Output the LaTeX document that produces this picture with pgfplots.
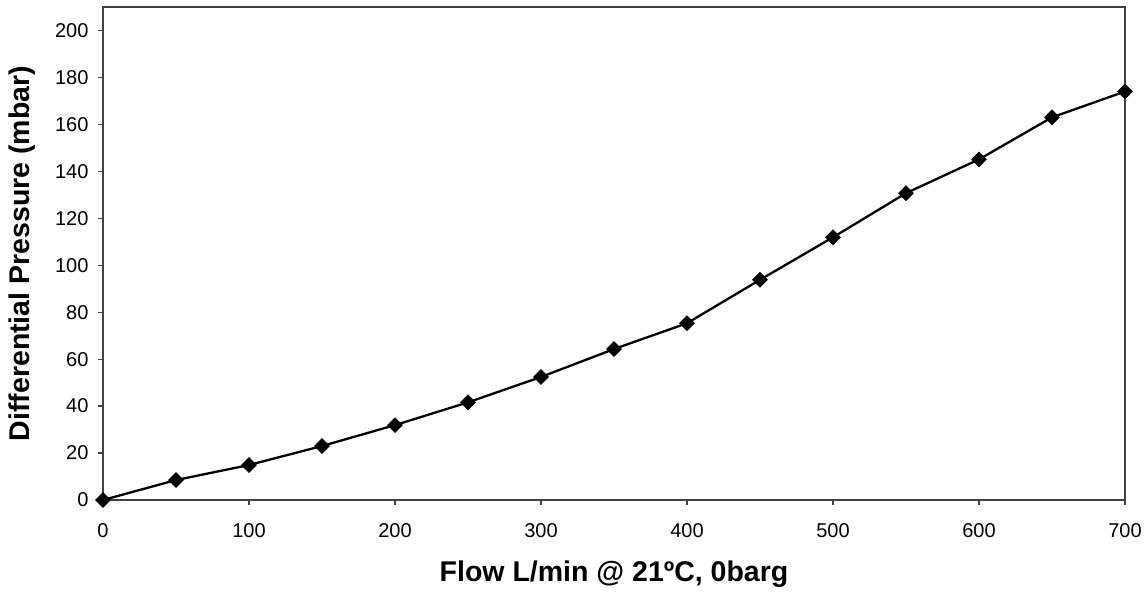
\documentclass[border=0pt]{standalone}
\usepackage{fontspec}
\setmainfont{Liberation Sans}
\usepackage{pgfplots}
\pgfplotsset{compat=1.18}
\begin{document}
\begin{tikzpicture}
\useasboundingbox (-103pt,-92pt) rectangle (1044pt,500pt);
\begin{axis}[
  at={(0,0)}, anchor=south west,
  scale only axis, width=1022pt, height=493pt,
  xmin=0, xmax=700, ymin=0, ymax=210,
  xtick={0,100,...,700}, ytick={0,20,...,200},
  tick align=outside, major tick length=5pt,
  tick style={color=black!75, line width=1.2pt},
  axis line style={color=black!75, line width=1.5pt},
  xtick pos=bottom, ytick pos=left,
  /pgf/number format/assume math mode=true,
  ticklabel style={font=\fontsize{20}{22}\selectfont},
  xticklabel style={yshift=-15pt},
  yticklabel style={xshift=-6pt},
  xlabel={Flow L/min @ 21ºC, 0barg},
  ylabel={Differential Pressure (mbar)},
  xlabel style={font=\fontsize{28.5}{30}\selectfont\bfseries,
    at={(axis description cs:0.5,-0.150)}, anchor=center},
  ylabel style={font=\fontsize{28.5}{30}\selectfont\bfseries,
    at={(axis description cs:-0.0793,0.5)}, anchor=center},
  clip=false,
]
\addplot[black, line width=2.3pt, mark=square*, mark size=5.3pt, mark options={rotate=45, line width=0.5pt}] coordinates {
(0,0) (50,8.5) (100,14.9) (150,23) (200,31.9) (250,41.6) (300,52.4) (350,64.3)
(400,75.3) (450,93.8) (500,111.9) (550,130.7) (600,145.1) (650,163) (700,174)
};
\end{axis}
\end{tikzpicture}
\end{document}
